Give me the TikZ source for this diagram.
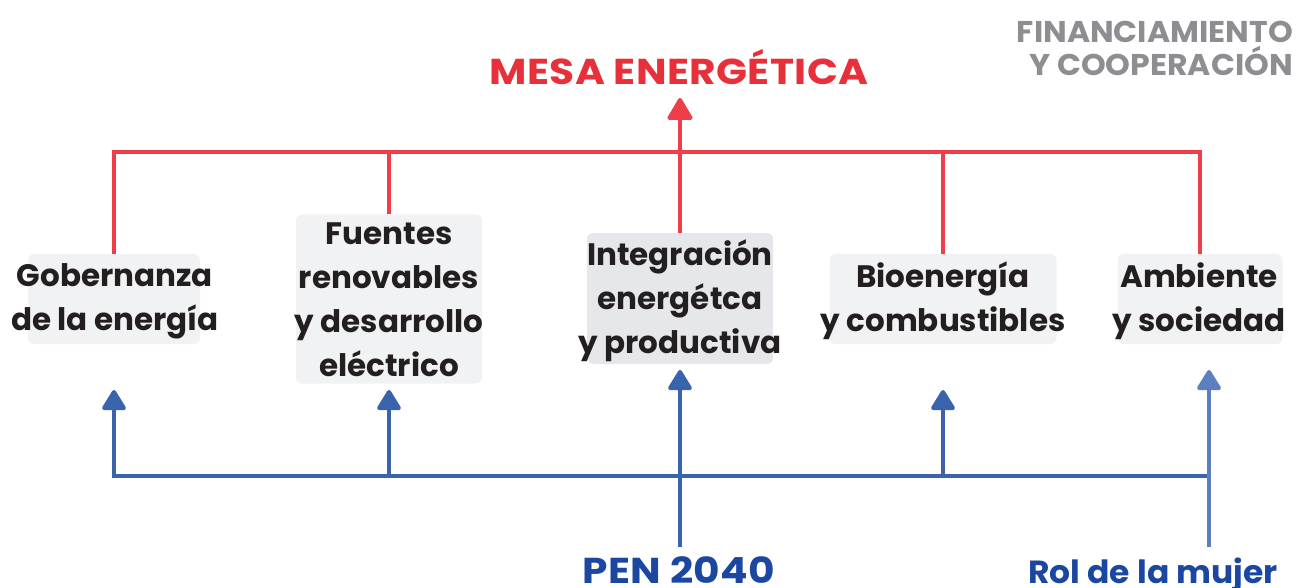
\documentclass[tikz,border=0pt]{standalone}
\usepackage{fontspec}
\setmainfont{Poppins}
\usetikzlibrary{arrows.meta}
\definecolor{boxfill}{HTML}{F1F2F4}
\definecolor{boxfilldark}{HTML}{E5E7EA}
\definecolor{txt}{HTML}{231F20}
\definecolor{redline}{HTML}{EF3E48}
\definecolor{redtxt}{HTML}{E8303A}
\definecolor{blueline}{HTML}{3A63AD}
\definecolor{bluelight}{HTML}{5B7FC0}
\definecolor{bluetxt}{HTML}{1B47A0}
\definecolor{graytxt}{HTML}{8D8E91}
\begin{document}
\begin{tikzpicture}[x=1pt,y=-1pt,
  topicbox/.style={rectangle,rounded corners=6pt,fill=boxfill,inner sep=0pt},
  topictext/.style={align=center,inner sep=0pt,text=txt,font=\fontsize{31}{44}\selectfont\bfseries},
  titletext/.style={inner sep=0pt,font=\bfseries},
  redconn/.style={draw=redline,line width=4pt},
  blueconn/.style={draw=blueline,line width=4pt},
  redtip/.style={-{Triangle[width=27pt,length=24pt,round]}},
  bluetip/.style={-{Triangle[width=26pt,length=22pt,round]}}
]
\useasboundingbox (0,0) rectangle (1296,588);
% boxes
\node[topicbox,minimum width=172pt,minimum height=90pt] (g) at (114,299) {};
\node[topicbox,minimum width=186pt,minimum height=169pt] (f) at (389,299) {};
\node[topicbox,fill=boxfilldark,minimum width=186pt,minimum height=131pt] (i) at (680,298.5) {};
\node[topicbox,minimum width=227pt,minimum height=90pt] (b) at (943,299) {};
\node[topicbox,minimum width=165pt,minimum height=90pt] (a) at (1200,299) {};
% texts
\node[topictext] (gt) at (115,301) {Gobernanza\\de la energía};
\node[topictext] (ft) at (389,300) {Fuentes\\renovables\\y desarrollo\\eléctrico};
\node[topictext] (it) at (680,301) {Integración\\energétca\\y productiva};
\node[topictext] (bt) at (943,301) {Bioenergía\\y combustibles};
\node[topictext] (at) at (1199,301) {Ambiente\\y sociedad};
% titles
\node[titletext,anchor=base,text=redtxt,font=\fontsize{36}{40}\selectfont\bfseries\addfontfeatures{FakeStretch=1.13,LetterSpace=1}] (mesa) at (679,85) {MESA ENERGÉTICA};
\node[titletext,anchor=east,align=right,text=graytxt,font=\fontsize{30}{33}\selectfont\bfseries\addfontfeatures{FakeStretch=1.05}] (fin) at (1293,48) {FINANCIAMIENTO\\Y COOPERACIÓN};
\node[titletext,anchor=base,text=bluetxt,font=\fontsize{36}{40}\selectfont\bfseries\addfontfeatures{FakeStretch=1.13,LetterSpace=1}] (pen) at (679,583) {PEN 2040};
\node[titletext,anchor=base,text=bluetxt,font=\fontsize{32}{36}\selectfont\bfseries\addfontfeatures{FakeStretch=1.03}] (rol) at (1153,583) {Rol de la mujer};
% coordinates
\coordinate (top) at (0,152);
\coordinate (mesatip) at (680,98);
\coordinate (bl) at (0,476);
\coordinate (gtip) at (114,390);
\coordinate (ftip) at (389,390);
\coordinate (btip) at (943,390);
\coordinate (itip) at (680,370);
\coordinate (atip) at (1209,370);
\coordinate (penend) at (680,547);
\coordinate (rolend) at (1209,547);
% red connectors
\draw[redconn] (g.north) |- (a.north |- top) -- (a.north);
\draw[redconn] (f.north) -- (f.north |- top);
\draw[redconn] (b.north) -- (b.north |- top);
\draw[redconn,redtip] (i.north) -- (mesatip);
% blue connectors
\draw[blueconn,bluetip] (rolend |- bl) -- (gtip |- bl) -- (gtip);
\draw[blueconn,bluetip] (ftip |- bl) -- (ftip);
\draw[blueconn,bluetip] (btip |- bl) -- (btip);
\draw[blueconn,bluetip] (penend) -- (itip);
\draw[blueconn,draw=bluelight,bluetip] (rolend) -- (atip);
\end{tikzpicture}
\end{document}
